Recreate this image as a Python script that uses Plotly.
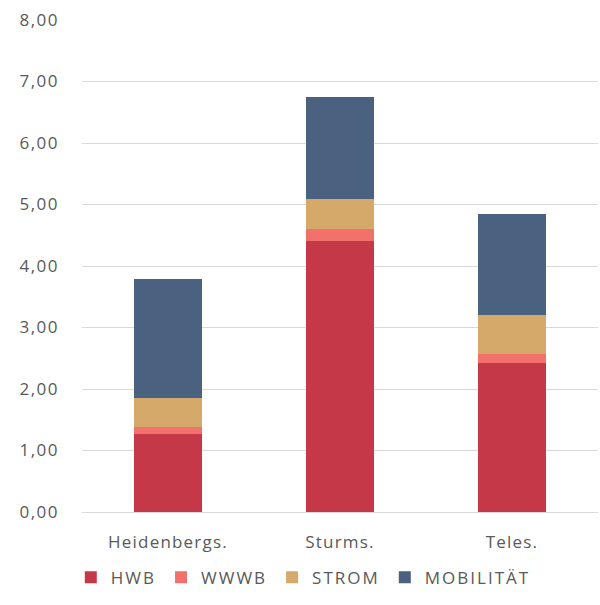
import plotly.graph_objects as go

categories = ["Heidenbergs.", "Sturms.", "Teles."]
hwb = [1.27, 4.40, 2.42]
wwwb = [0.12, 0.20, 0.15]
strom = [0.47, 0.49, 0.64]
mobilitaet = [1.93, 1.66, 1.63]

y_ticks = [0, 1, 2, 3, 4, 5, 6, 7, 8]
y_tick_labels = ["0,00", "1,00", "2,00", "3,00", "4,00", "5,00", "6,00", "7,00", "8,00"]

series = [
    ("HWB", hwb, "#C43848"),
    ("WWWB", wwwb, "#F2716C"),
    ("STROM", strom, "#D4A96A"),
    ("MOBILITÄT", mobilitaet, "#4A6180"),
]

font_family = "'Open Sans', Lato, sans-serif"
text_color = "#595959"


def tracked(text, spacing):
    """Wrap a label so it is drawn with extra letter spacing."""
    return f'<span style="letter-spacing:{spacing}px">{text}</span>'


fig = go.Figure()
for name, vals, color in series:
    fig.add_trace(go.Bar(
        x=categories, y=vals, name=tracked(name, 2),
        marker=dict(color=color, line=dict(width=0)),
        hovertemplate=name + ": %{y:.2f}<extra></extra>",
    ))

fig.update_layout(
    barmode="stack",
    bargap=0.6,
    width=600, height=605,
    margin=dict(l=82, r=2, t=20, b=93, autoexpand=False),
    paper_bgcolor="white",
    plot_bgcolor="white",
    font=dict(family=font_family, size=17, color=text_color),
    showlegend=True,
    legend=dict(
        orientation="h", x=0.118, xref="container", xanchor="left",
        y=0.045, yref="container", yanchor="middle",
        font=dict(size=17, color=text_color),
        traceorder="normal",
    ),
    xaxis=dict(
        showgrid=False, showline=False, ticks="",
        tickvals=categories,
        ticktext=[tracked(c, 1.2) for c in categories],
        tickfont=dict(size=17, color=text_color),
        ticklabelstandoff=18,
        automargin=False,
    ),
    yaxis=dict(
        range=[0, 8],
        tickvals=y_ticks, ticktext=[tracked(t, 1.5) for t in y_tick_labels],
        showgrid=True, gridcolor="#D9D9D9", gridwidth=1,
        zeroline=True, zerolinecolor="#D9D9D9", zerolinewidth=1,
        showline=False, ticks="", ticklabelstandoff=22,
        tickfont=dict(size=17, color=text_color),
        automargin=False,
    ),
)

fig.write_html("out.html")
